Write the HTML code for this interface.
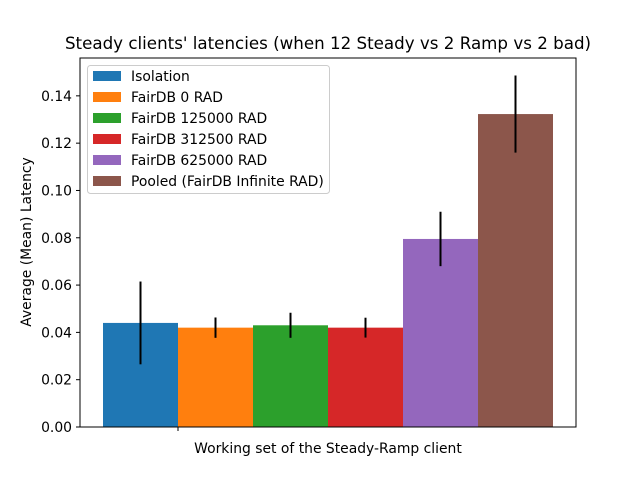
<!DOCTYPE html>
<html><head><meta charset="utf-8"><style>
body{margin:0;background:#fff}
text{font-family:"DejaVu Sans","Liberation Sans",sans-serif;fill:#000}
</style></head><body>
<svg id="chart" width="640" height="480" xmlns="http://www.w3.org/2000/svg">
<rect width="640" height="480" fill="#fff"/>
<text x="328" y="49" text-anchor="middle" font-size="16.7">Steady clients' latencies (when 12 Steady vs 2 Ramp vs 2 bad)</text>
<g id="bars"></g>
<g id="yaxis"></g>
<rect x="80" y="58" width="496" height="369" fill="none" stroke="#000" stroke-width="1"/>
<line x1="178" y1="427" x2="178" y2="431" stroke="#000"/>
<text x="328" y="453" text-anchor="middle" font-size="13.9">Working set of the Steady-Ramp client</text>
<text transform="translate(31,242) rotate(-90)" text-anchor="middle" font-size="13.9">Average (Mean) Latency</text>
<g id="legend"></g>
</svg>
<script>
const categories=["Isolation","FairDB 0 RAD","FairDB 125000 RAD","FairDB 312500 RAD","FairDB 625000 RAD","Pooled (FairDB Infinite RAD)"];
const values=[0.044,0.042,0.043,0.042,0.0795,0.1323];
const errors=[0.0175,0.0043,0.0053,0.0042,0.0115,0.0163];
const yTicks=[0,0.02,0.04,0.06,0.08,0.10,0.12,0.14];
const colors=["#1f77b4","#ff7f0e","#2ca02c","#d62728","#9467bd","#8c564b"];
const NS="http://www.w3.org/2000/svg";
const y0=427,yMax=0.156,ph=369;
function y(v){return y0-v/yMax*ph;}
function x(i){return 103+i*75;}
function mk(t,a,p){const e=document.createElementNS(NS,t);for(const k in a)e.setAttribute(k,a[k]);p.appendChild(e);return e;}
const bars=document.getElementById('bars');
values.forEach((v,i)=>{
 const r=mk('rect',{x:x(i),y:y(v),width:75,height:y0-y(v),fill:colors[i]},bars);
 
 
 const l=mk('line',{x1:x(i)+37.5,x2:x(i)+37.5,y1:y(v+errors[i]),y2:y(v-errors[i]),stroke:'#000','stroke-width':2},bars);
 
 
});
const ya=document.getElementById('yaxis');
yTicks.forEach(t=>{
 mk('line',{x1:76,x2:80,y1:y(t),y2:y(t),stroke:'#000'},ya);
 const tx=mk('text',{x:72,y:y(t)+5,'text-anchor':'end','font-size':13.9},ya);
 tx.textContent=t.toFixed(2);
 
 
});
const lg=document.getElementById('legend');
const box=mk('rect',{x:87.5,y:65.5,width:242,height:128,rx:3,fill:'#fff','fill-opacity':0.8,stroke:'#ccc'},lg);


categories.forEach((c,i)=>{
 const yy=71+i*21;
 mk('rect',{x:93,y:yy,width:28,height:10,fill:colors[i]},lg);
 const t=mk('text',{x:131,y:yy+10,'font-size':13.9},lg);
 t.textContent=c;
 
 
});
</script>
</body></html>
